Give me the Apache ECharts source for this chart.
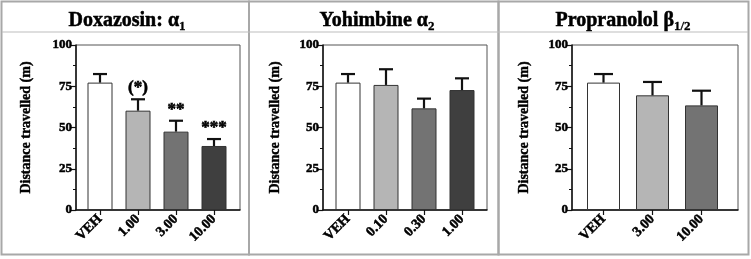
<!DOCTYPE html>
<html>
<head>
<meta charset="utf-8">
<script src="https://cdn.jsdelivr.net/npm/echarts@6/dist/echarts.min.js"></script>
<style>
  html, body { margin: 0; padding: 0; background: #fff; }
  #chart { width: 751px; height: 259px; }
</style>
</head>
<body>
<div id="chart"></div>
<script>
// data
const doxCats = ['VEH', '1.00', '3.00', '10.00']
const doxMeans = [77.2, 60.2, 47.5, 38.8]
const doxErr = [5.2, 6.9, 6.6, 4.2]
const doxSig = ['', '(*)', '**', '***']

const yohCats = ['VEH', '0.10', '0.30', '1.00']
const yohMeans = [77.2, 75.8, 61.6, 72.7]
const yohErr = [5.2, 9.5, 5.9, 7.1]
const yohSig = ['', '', '', '']

const proCats = ['VEH', '3.00', '10.00']
const proMeans = [77.2, 69.5, 63.4]
const proErr = [5.2, 8.1, 8.9]
const proSig = ['', '', '']

const barColors = ['#ffffff', '#b5b5b5', '#737373', '#3f3f3f']
const yTicks = [0, 25, 50, 75, 100]

const font = 'Liberation Serif, Times New Roman, serif'
// the scanned figure uses a heavy bold, so thicken the text a little
const heavy = { fontFamily: font, fontWeight: 'bold', color: '#000', textBorderColor: '#000', textBorderWidth: 0.5 }

const panels = [
  { title: '{a|Doxazosin: α}{s|1}', titleX: 122, frameL: 76, frameW: 164, barL: 81, barW: 152, bw: 25, nameGap: 43,
    cats: doxCats, means: doxMeans, err: doxErr, sig: doxSig },
  { title: '{a|Yohimbine α}{s|2}', titleX: 372, frameL: 323, frameW: 164, barL: 329, barW: 152, bw: 25, nameGap: 41,
    cats: yohCats, means: yohMeans, err: yohErr, sig: yohSig },
  { title: '{a|Propranolol β}{s|1/2}', titleX: 618, frameL: 572, frameW: 166, barL: 579, barW: 147, bw: 33, nameGap: 41,
    cats: proCats, means: proMeans, err: proErr, sig: proSig }
]

const grid = []
const xAxis = []
const yAxis = []
const series = []
const title = []

panels.forEach(function (p, k) {
  const fi = 2 * k
  const bi = 2 * k + 1
  title.push({
    text: p.title,
    left: p.titleX,
    top: 4,
    textAlign: 'center',
    textStyle: {
      rich: {
        a: Object.assign({}, heavy, { fontSize: 20, lineHeight: 24 }),
        s: Object.assign({}, heavy, { fontSize: 13, lineHeight: 24, verticalAlign: 'bottom', textBorderWidth: 0.3 })
      }
    }
  })
  grid.push({ left: p.frameL, width: p.frameW, top: 45, height: 165, show: true, borderColor: '#555', borderWidth: 1 })
  grid.push({ left: p.barL, width: p.barW, top: 45, height: 165 })
  xAxis.push({
    type: 'value', gridIndex: fi, min: 0, max: 1,
    axisLine: { show: true, lineStyle: { color: '#111', width: 1.5 } },
    axisTick: { show: false }, axisLabel: { show: false }, splitLine: { show: false }
  })
  xAxis.push({
    type: 'category', gridIndex: bi, data: p.cats,
    axisLine: { show: false },
    axisTick: { show: true, alignWithLabel: true, length: 5, lineStyle: { color: '#111', width: 1.2 } },
    axisLabel: Object.assign({ rotate: 45, margin: 7, fontSize: 14 }, heavy)
  })
  yAxis.push({
    type: 'value', gridIndex: fi, min: yTicks[0], max: yTicks[yTicks.length - 1], interval: 25,
    name: 'Distance travelled (m)', nameLocation: 'middle', nameGap: p.nameGap,
    nameTextStyle: Object.assign({ fontSize: 14 }, heavy, { textBorderWidth: 0.4 }),
    axisLine: { show: true, lineStyle: { color: '#111', width: 1.5 } },
    axisTick: { show: true, length: 5, lineStyle: { color: '#111', width: 1.2 } },
    minorTick: { show: true, splitNumber: 2, length: 3, lineStyle: { color: '#111', width: 1 } },
    axisLabel: Object.assign({ margin: 4, fontSize: 13 }, heavy),
    splitLine: { show: false }
  })
  yAxis.push({ type: 'value', gridIndex: bi, min: 0, max: 100, show: false })

  series.push({
    type: 'bar', xAxisIndex: bi, yAxisIndex: bi, barWidth: p.bw,
    data: p.means.map(function (v, i) {
      return { value: v, itemStyle: { color: barColors[i], borderColor: '#333', borderWidth: 1 } }
    })
  })
  const cap = Math.round(p.bw * 0.58)
  series.push({
    type: 'custom', xAxisIndex: bi, yAxisIndex: bi, z: 3,
    data: p.means.map(function (v, i) { return [i, v, p.err[i]] }),
    renderItem: function (params, api) {
      const i = api.value(0)
      const base = api.coord([i, api.value(1)])
      const top = api.coord([i, api.value(1) + api.value(2)])
      const st = { stroke: '#111', lineWidth: 2.2 }
      const children = [
        { type: 'line', shape: { x1: base[0], y1: base[1], x2: top[0], y2: top[1] }, style: st },
        { type: 'line', shape: { x1: top[0] - cap / 2, y1: top[1], x2: top[0] + cap / 2, y2: top[1] }, style: st }
      ]
      const s = p.sig[i]
      if (s) {
        children.push({
          type: 'text', x: top[0], y: top[1] - 3,
          style: { text: s, align: 'center', verticalAlign: 'bottom', fontFamily: font, fontWeight: 'bold', fontSize: 17,
            fill: '#000', stroke: '#000', lineWidth: 0.6 }
        })
      }
      return { type: 'group', children: children }
    }
  })
})

const chart = echarts.init(document.getElementById('chart'))
chart.setOption({
  animation: false,
  backgroundColor: '#fff',
  title: title,
  grid: grid,
  xAxis: xAxis,
  yAxis: yAxis,
  series: series,
  graphic: [
    { type: 'rect', shape: { x: 1.5, y: 1.5, width: 247.5, height: 253 }, style: { fill: 'none', stroke: '#a8a8a8', lineWidth: 2 } },
    { type: 'rect', shape: { x: 249, y: 1.5, width: 249.5, height: 253 }, style: { fill: 'none', stroke: '#a8a8a8', lineWidth: 2 } },
    { type: 'rect', shape: { x: 498.5, y: 1.5, width: 250, height: 253 }, style: { fill: 'none', stroke: '#a8a8a8', lineWidth: 2 } },
    { type: 'line', shape: { x1: 2, y1: 32, x2: 748, y2: 32 }, style: { stroke: '#bdbdbd', lineWidth: 1 } }
  ]
})
</script>
</body>
</html>
